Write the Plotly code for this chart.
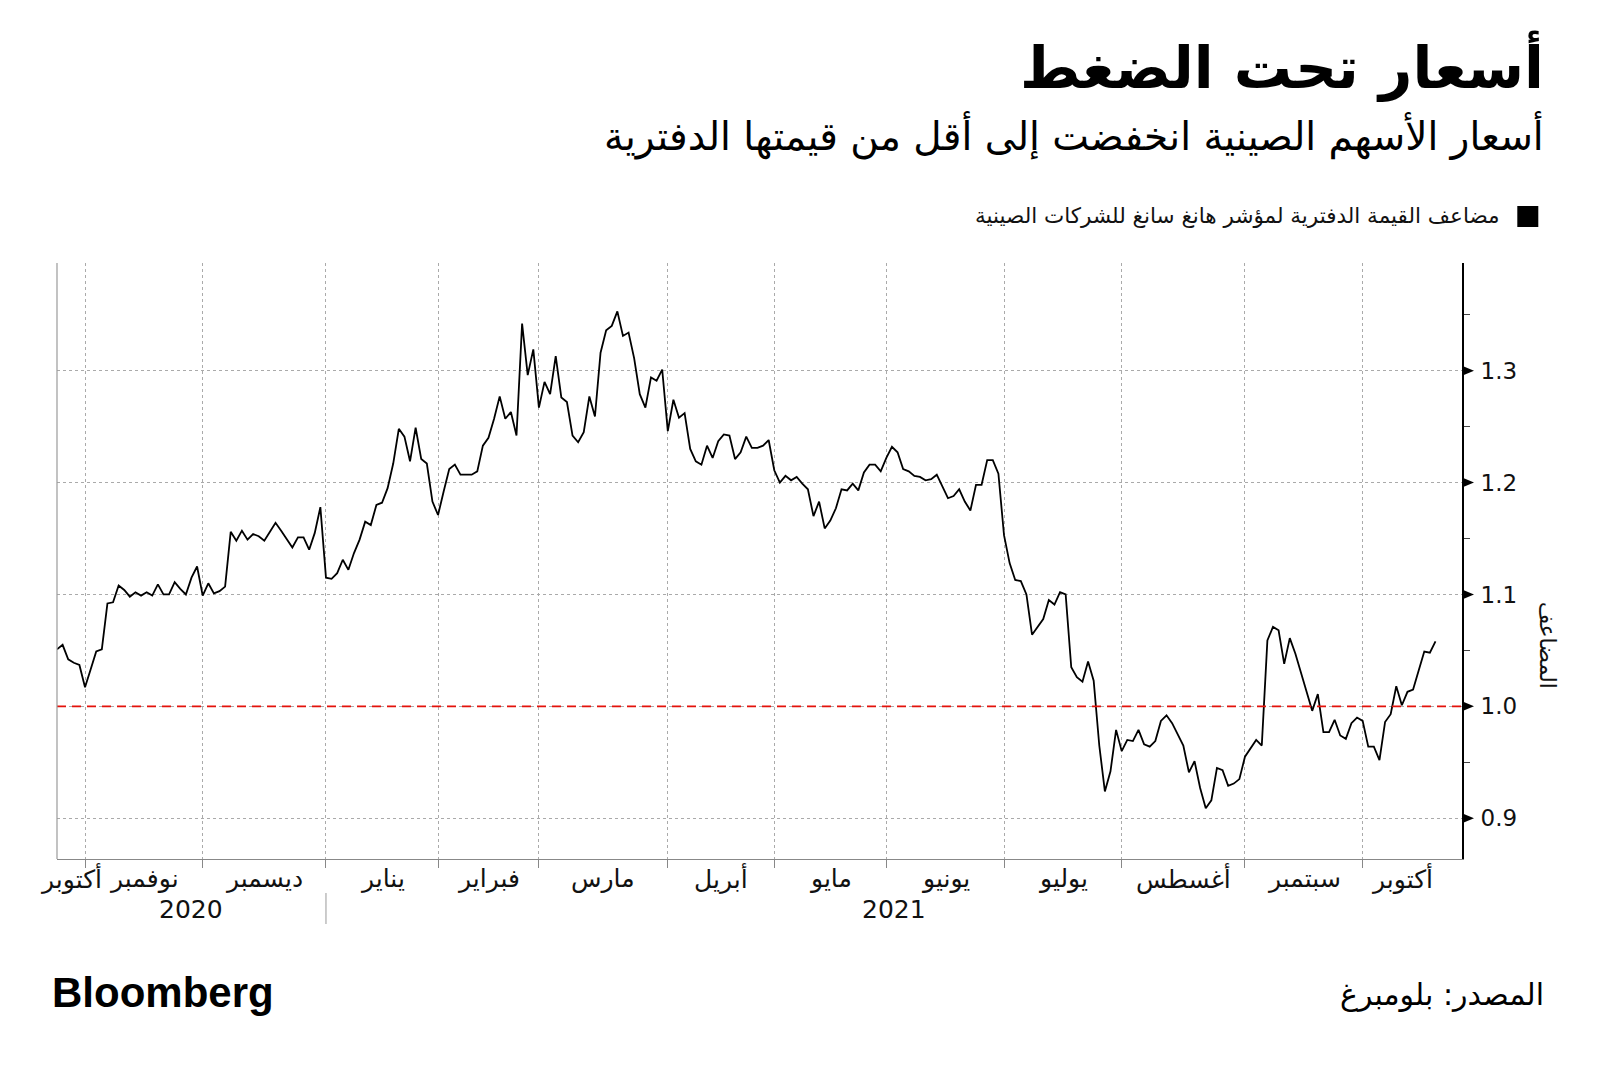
import plotly.graph_objects as go

# ---------------- data ----------------
values = [
    1.051, 1.055, 1.042, 1.039, 1.037, 1.017, 1.033, 1.049, 1.051, 1.092,
    1.093, 1.108, 1.104, 1.098, 1.102, 1.099, 1.102, 1.099, 1.109, 1.100,
    1.100, 1.111, 1.105, 1.100, 1.115, 1.125, 1.099, 1.110, 1.101, 1.103,
    1.107, 1.156, 1.148, 1.157, 1.149, 1.154, 1.152, 1.148, 1.156, 1.164,
    1.157, 1.150, 1.142, 1.151, 1.151, 1.140, 1.155, 1.178, 1.115, 1.114,
    1.119, 1.131, 1.122, 1.137, 1.149, 1.165, 1.162, 1.180, 1.182, 1.195,
    1.217, 1.248, 1.241, 1.219, 1.249, 1.221, 1.217, 1.183, 1.171, 1.192,
    1.212, 1.216, 1.207, 1.207, 1.207, 1.210, 1.233, 1.240, 1.257, 1.277,
    1.257, 1.263, 1.242, 1.342, 1.296, 1.319, 1.267, 1.290, 1.279, 1.313,
    1.276, 1.272, 1.242, 1.236, 1.245, 1.277, 1.259, 1.316, 1.336, 1.340,
    1.353, 1.331, 1.334, 1.311, 1.279, 1.267, 1.294, 1.291, 1.301, 1.246,
    1.274, 1.258, 1.262, 1.230, 1.219, 1.216, 1.233, 1.222, 1.237, 1.243,
    1.242, 1.221, 1.227, 1.241, 1.231, 1.231, 1.233, 1.238, 1.211, 1.200,
    1.206, 1.202, 1.205, 1.199, 1.194, 1.170, 1.183, 1.159, 1.166, 1.177,
    1.194, 1.193, 1.199, 1.193, 1.209, 1.216, 1.216, 1.210, 1.222, 1.232,
    1.227, 1.212, 1.210, 1.206, 1.205, 1.202, 1.203, 1.207, 1.196, 1.186,
    1.188, 1.194, 1.183, 1.175, 1.198, 1.198, 1.220, 1.220, 1.208, 1.153,
    1.128, 1.113, 1.112, 1.100, 1.064, 1.071, 1.078, 1.095, 1.091, 1.102,
    1.100, 1.035, 1.026, 1.022, 1.040, 1.023, 0.965, 0.924, 0.942, 0.979,
    0.960, 0.970, 0.969, 0.979, 0.966, 0.964, 0.969, 0.987, 0.992, 0.985,
    0.975, 0.965, 0.941, 0.951, 0.927, 0.909, 0.916, 0.945, 0.943, 0.929,
    0.931, 0.935, 0.955, 0.963, 0.970, 0.965, 1.059, 1.071, 1.068, 1.038,
    1.061, 1.047, 1.030, 1.011, 0.996, 1.011, 0.977, 0.977, 0.988, 0.974,
    0.971, 0.985, 0.990, 0.987, 0.964, 0.964, 0.952, 0.986, 0.993, 1.018,
    1.001, 1.013, 1.015, 1.032, 1.049, 1.048, 1.058,
]

# trading days per month (Oct 2020 .. Oct 2021)
month_labels = ["أكتوبر", "نوفمبر", "ديسمبر", "يناير", "فبراير", "مارس", "أبريل",
                "مايو", "يونيو", "يوليو", "أغسطس", "سبتمبر", "أكتوبر"]
month_counts = [5, 21, 22, 20, 18, 23, 19, 20, 21, 21, 22, 21, 14]
year_labels = ["2020", "2021"]
months_per_year = [3, 10]

y_ticks = [0.9, 1.0, 1.1, 1.2, 1.3]
y_tick_text = ["0.9", "1.0", "1.1", "1.2", "1.3"]
reference_level = 1.0

title = "أسعار تحت الضغط"
subtitle = "أسعار الأسهم الصينية انخفضت إلى أقل من قيمتها الدفترية"
series_name = "مضاعف القيمة الدفترية لمؤشر هانغ سانغ للشركات الصينية"
y_title = "المضاعف"
source = "المصدر: بلومبرغ"
brand = "Bloomberg"

# ---------------- layout geometry (pixels) ----------------
W, H = 1600, 1070
L, R, T, B = 56.7, 1461.7, 263, 859
X_MAX = 250.73
Y_RANGE = [0.8636, 1.3962]
AR = "DejaVu Sans"


def px(x):
    return (x - L) / (R - L)


def py(y):
    return (B - y) / (B - T)


x_idx = list(range(len(values)))
starts = []
acc = 0
for c in month_counts:
    starts.append(acc)
    acc += c
n = acc
bounds = starts[1:]

fig = go.Figure()

fig.add_trace(go.Scatter(
    x=x_idx, y=values, mode="lines",
    line=dict(color="black", width=1.8),
    showlegend=False, hoverinfo="skip",
))

shapes = []
# reference line
shapes.append(dict(type="line", xref="paper", yref="y", x0=0, x1=1,
                   y0=reference_level, y1=reference_level,
                   line=dict(color="#e3120b", width=1.6, dash="9px,6px")))
# left border
shapes.append(dict(type="line", xref="paper", yref="paper", x0=0, x1=0, y0=0, y1=1,
                   line=dict(color="#9a9a9a", width=1.2)))
# tick triangles on the right axis
unit_px = (B - T) / (Y_RANGE[1] - Y_RANGE[0])
half_h = 5 / unit_px
tw = 12 / (R - L)
for v in y_ticks:
    shapes.append(dict(type="path", xref="paper", yref="y",
                       path=f"M 1,{v - half_h} L {1 + tw},{v} L 1,{v + half_h} Z",
                       fillcolor="black", line=dict(width=0)))
# year separator(s)
ycum = 0
for k in months_per_year[:-1]:
    ycum += k
    xs = starts[ycum]
    shapes.append(dict(type="line", xref="x", yref="paper", x0=xs, x1=xs,
                       y0=py(893), y1=py(924), line=dict(color="#9a9a9a", width=1)))
# legend square
shapes.append(dict(type="rect", xref="paper", yref="paper",
                   x0=px(1517), x1=px(1538), y0=py(227), y1=py(206),
                   fillcolor="black", line=dict(width=0)))

ann = []
# month labels
for i, lab in enumerate(month_labels):
    s = starts[i]
    e = starts[i + 1] if i + 1 < len(starts) else n
    ann.append(dict(x=(s + e) / 2, y=py(878), xref="x", yref="paper", text=lab,
                    showarrow=False, xanchor="center", yanchor="middle",
                    font=dict(family=AR, size=25, color="#111")))
# year labels
mi = 0
for k, yl in zip(months_per_year, year_labels):
    s = starts[mi]
    mi += k
    e = starts[mi] if mi < len(starts) else X_MAX
    ann.append(dict(x=(s + e) / 2, y=py(909), xref="x", yref="paper", text=yl,
                    showarrow=False, xanchor="center", yanchor="middle",
                    font=dict(family=AR, size=25, color="#111")))

ann += [
    dict(x=px(1546), y=py(66), xref="paper", yref="paper", text="<b>" + title + "</b>",
         showarrow=False, xanchor="right", yanchor="middle",
         font=dict(family=AR, size=58, color="black")),
    dict(x=px(1546), y=py(135), xref="paper", yref="paper", text=subtitle,
         showarrow=False, xanchor="right", yanchor="middle",
         font=dict(family=AR, size=39, color="black")),
    dict(x=px(1502), y=py(216), xref="paper", yref="paper", text=series_name,
         showarrow=False, xanchor="right", yanchor="middle",
         font=dict(family=AR, size=21.5, color="#111")),
    dict(x=px(1548), y=py(645), xref="paper", yref="paper", text=y_title,
         showarrow=False, xanchor="center", yanchor="middle", textangle=90,
         font=dict(family=AR, size=22, color="#111")),
    dict(x=px(1546), y=py(994), xref="paper", yref="paper", text=source,
         showarrow=False, xanchor="right", yanchor="middle",
         font=dict(family=AR, size=30, color="black")),
    dict(x=px(50), y=py(992), xref="paper", yref="paper", text="<b>" + brand + "</b>",
         showarrow=False, xanchor="left", yanchor="middle",
         font=dict(family="Liberation Sans", size=42, color="black")),
]

fig.update_layout(
    width=W, height=H,
    margin=dict(l=L, r=W - R, t=T, b=H - B, pad=0),
    paper_bgcolor="white", plot_bgcolor="white",
    shapes=shapes, annotations=ann,
    xaxis=dict(range=[0, X_MAX], tickvals=bounds, ticktext=[""] * len(bounds),
               ticks="outside", ticklen=8, tickcolor="#888", tickwidth=1,
               showgrid=True, gridcolor="#aaaaaa", griddash="dot", gridwidth=1,
               showline=True, linecolor="#888", linewidth=1.2, zeroline=False,
               fixedrange=True),
    yaxis=dict(range=Y_RANGE, side="right", tickvals=y_ticks, ticktext=y_tick_text,
               ticks="outside", ticklen=12, tickcolor="rgba(0,0,0,0)",
               tickfont=dict(family="DejaVu Sans", size=23, color="#111"),
               showgrid=True, gridcolor="#aaaaaa", griddash="dot", gridwidth=1,
               showline=True, linecolor="black", linewidth=2, zeroline=False,
               minor=dict(dtick=0.05, tick0=0.9, ticks="outside", ticklen=6,
                          tickcolor="#444", tickwidth=1, showgrid=False),
               fixedrange=True),
)

fig.write_html("out.html")
